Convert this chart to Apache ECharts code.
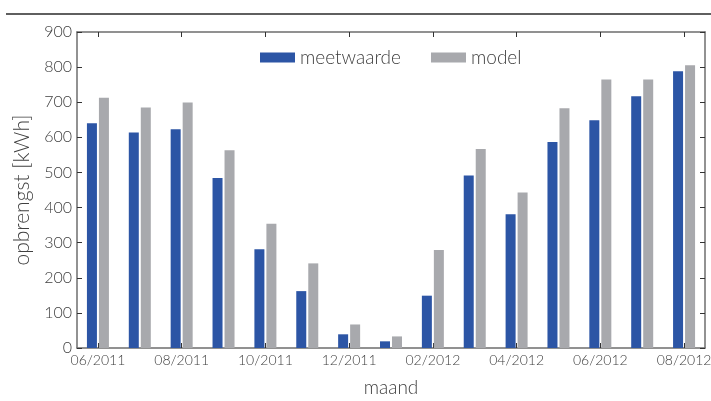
<!DOCTYPE html>
<html>
<head>
<meta charset="utf-8">
<script src="https://cdn.jsdelivr.net/npm/echarts@6/dist/echarts.min.js"></script>
<style>
  html, body { margin: 0; padding: 0; background: #fff; }
  #chart { width: 711px; height: 401px; }
</style>
</head>
<body>
<div id="chart"></div>
<script>
// Monthly yield: measured vs. modelled (kWh)
const months = ['06/2011', '07/2011', '08/2011', '09/2011', '10/2011', '11/2011', '12/2011',
                '01/2012', '02/2012', '03/2012', '04/2012', '05/2012', '06/2012', '07/2012', '08/2012'];
const meetwaarde = [640, 614, 623, 484, 281, 162, 39, 19, 149, 491, 381, 587, 649, 717, 788];
const model      = [713, 685, 699, 563, 354, 241, 67, 33, 279, 567, 443, 683, 765, 765, 805];
const yTicks = [0, 100, 200, 300, 400, 500, 600, 700, 800, 900];

const FONT = 'Lato';
const TEXT = '#404040';
const AXIS = '#6e6e6e';

const chart = echarts.init(document.getElementById('chart'));

const frameLine = { show: true, onZero: false, lineStyle: { color: AXIS, width: 1.5 } };
const tickStyle = { show: true, inside: true, length: 5, lineStyle: { color: '#333', width: 1 } };

chart.setOption({
  animation: false,
  textStyle: { fontFamily: FONT },
  grid: { left: 77, right: 6, top: 32, bottom: 53, containLabel: false, outerBoundsMode: 'none' },
  graphic: [{
    type: 'line',
    shape: { x1: 6, y1: 14, x2: 711, y2: 14 },
    style: { stroke: '#2a2a2a', lineWidth: 1.5 }
  }],
  legend: {
    left: 255, top: 43,
    itemWidth: 35, itemHeight: 10, itemGap: 30,
    textStyle: { fontFamily: FONT, fontSize: 19, fontWeight: 300, color: TEXT },
    icon: 'rect',
    data: ['meetwaarde', 'model']
  },
  xAxis: [{
    type: 'category',
    data: months,
    position: 'bottom',
    name: 'maand',
    nameLocation: 'middle',
    nameGap: 30,
    nameTextStyle: { fontFamily: FONT, fontSize: 19, fontWeight: 300, color: TEXT },
    axisLine: frameLine,
    axisTick: Object.assign({ interval: 1, alignWithLabel: true }, tickStyle),
    axisLabel: { interval: 1, margin: 5, fontFamily: FONT, fontSize: 14, fontWeight: 300, color: TEXT },
    splitLine: { show: false }
  }, {
    type: 'category',
    data: months,
    position: 'top',
    axisLine: frameLine,
    axisTick: Object.assign({ interval: 1, alignWithLabel: true }, tickStyle),
    axisLabel: { show: false },
    splitLine: { show: false }
  }],
  yAxis: [{
    type: 'value',
    min: yTicks[0], max: yTicks[yTicks.length - 1], interval: 100,
    position: 'left',
    name: 'opbrengst [kWh]',
    nameLocation: 'middle',
    nameGap: 44,
    nameTextStyle: { fontFamily: FONT, fontSize: 21, fontWeight: 300, color: TEXT },
    axisLine: frameLine,
    axisTick: tickStyle,
    axisLabel: { margin: 5, fontFamily: FONT, fontSize: 16, fontWeight: 300, color: TEXT },
    splitLine: { show: false }
  }, {
    type: 'value',
    min: yTicks[0], max: yTicks[yTicks.length - 1], interval: 100,
    position: 'right',
    axisLine: frameLine,
    axisTick: tickStyle,
    axisLabel: { show: false },
    splitLine: { show: false }
  }],
  series: [{
    name: 'meetwaarde',
    type: 'bar',
    data: meetwaarde,
    barWidth: 10,
    barGap: '20%',
    itemStyle: { color: '#2c55a5' }
  }, {
    name: 'model',
    type: 'bar',
    data: model,
    barWidth: 10,
    barGap: '20%',
    itemStyle: { color: '#a8a9ad' }
  }]
});
</script>
</body>
</html>
